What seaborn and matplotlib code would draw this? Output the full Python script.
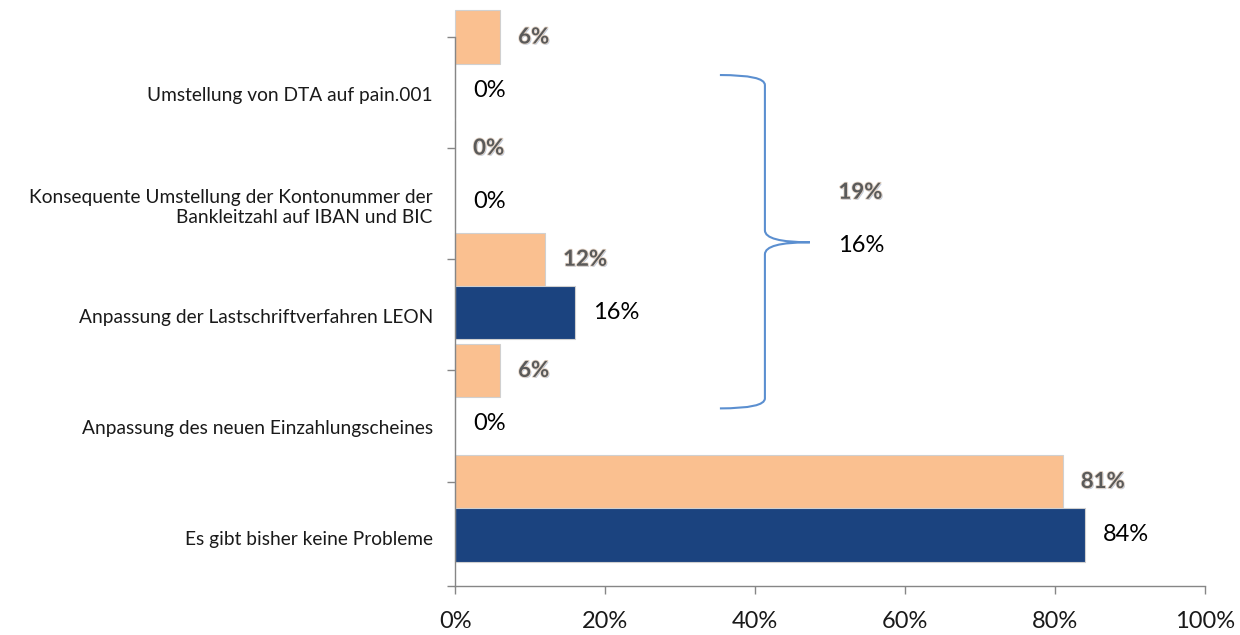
import pandas as pd
import numpy as np
import matplotlib
matplotlib.use("Agg")
import matplotlib.pyplot as plt
import matplotlib.patheffects as pe
from matplotlib.path import Path
from matplotlib.patches import PathPatch
import seaborn as sns

# =========================================
#               DATA
# =========================================
categories = [
    "Umstellung von DTA auf pain.001",
    "Konsequente Umstellung der Kontonummer der\nBankleitzahl auf IBAN und BIC",
    "Anpassung der Lastschriftverfahren LEON",
    "Anpassung des neuen Einzahlungscheines",
    "Es gibt bisher keine Probleme",
]
series_names = ["Vorjahr", "Aktuell"]
values_prev = [6, 0, 12, 6, 81]
values_curr = [0, 0, 16, 0, 84]
sum_prev = 19
sum_curr = 16
x_ticks = [0, 20, 40, 60, 80, 100]

colors = ["#FAC090", "#1B437F"]

df = pd.DataFrame({
    "Kategorie": categories * 2,
    "Serie": [series_names[0]] * len(categories) + [series_names[1]] * len(categories),
    "Wert": values_prev + values_curr,
})

# =========================================
#               PLOT
# =========================================
sns.set_theme(style="white")
plt.rcParams["font.family"] = ["Lato", "DejaVu Sans"]

fig = plt.figure(figsize=(12.4, 6.35), dpi=100)
ax = fig.add_axes([0.367, 0.0772, 0.605, 0.8645])

sns.barplot(data=df, x="Wert", y="Kategorie", hue="Serie", orient="h",
            palette=colors, saturation=1, width=0.96, dodge=True, legend=False,
            edgecolor="#d0d0d0", linewidth=0.8, ax=ax)

for p in ax.patches:
    p.set_clip_on(False)

n = len(categories)
ax.set_xlim(0, 100)
ax.set_ylim(n - 1 + 0.70, -0.24)

# category labels at the navy bars, tick marks at the orange bars
ax.set_yticks(np.arange(n) + 0.27)
ax.set_yticklabels(categories, fontsize=13.8, color="#1a1a1a", ha="right",
                   multialignment="right")
ax.set_yticks(list(np.arange(n) - 0.24) + [n - 1 + 0.70], minor=True)
ax.tick_params(axis="y", which="major", length=0, pad=16)
ax.tick_params(axis="y", which="minor", length=6, width=1, color="#868686", left=True)

ax.set_xticks(x_ticks)
ax.set_xticklabels([f"{t}%" for t in x_ticks], fontsize=17, color="#1a1a1a")
ax.tick_params(axis="x", length=6, width=1, color="#868686", pad=12, bottom=True)

for side in ["top", "right"]:
    ax.spines[side].set_visible(False)
for side in ["left", "bottom"]:
    ax.spines[side].set_color("#868686")
    ax.spines[side].set_linewidth(1)

ax.set_xlabel("")
ax.set_ylabel("")

# value labels
shadow = [pe.SimplePatchShadow(offset=(0.8, -0.8), shadow_rgbFace="#9db4d6", alpha=0.7),
          pe.withStroke(linewidth=1.2, foreground="#e6d6c8")]
ax.bar_label(ax.containers[0], labels=[f"{v}%" for v in values_prev], padding=13,
             fontsize=16, fontweight="bold", color="#5a5a5a", path_effects=shadow)
ax.bar_label(ax.containers[1], labels=[f"{v}%" for v in values_curr], padding=13,
             fontsize=17, color="black")

# curly brace
bc = "#5B8FD0"
verts = [(35.3, 0.102), (41.3, 0.102), (41.3, 0.192),
         (41.3, 1.50),
         (41.3, 1.607), (47.3, 1.607),
         (41.3, 1.607), (41.3, 1.715),
         (41.3, 3.012),
         (41.3, 3.102), (35.3, 3.102)]
codes = [Path.MOVETO, Path.CURVE3, Path.CURVE3,
         Path.LINETO,
         Path.CURVE3, Path.CURVE3,
         Path.CURVE3, Path.CURVE3,
         Path.LINETO,
         Path.CURVE3, Path.CURVE3]
ax.add_patch(PathPatch(Path(verts, codes), fill=False, edgecolor=bc, linewidth=1.5,
                       clip_on=False))

ax.text(51.1, 1.157, f"{sum_prev}%", fontsize=16, fontweight="bold", color="#5a5a5a",
        va="center", ha="left", path_effects=shadow)
ax.text(51.1, 1.634, f"{sum_curr}%", fontsize=17, color="black", va="center", ha="left")

fig.savefig("out.png", dpi=100)
